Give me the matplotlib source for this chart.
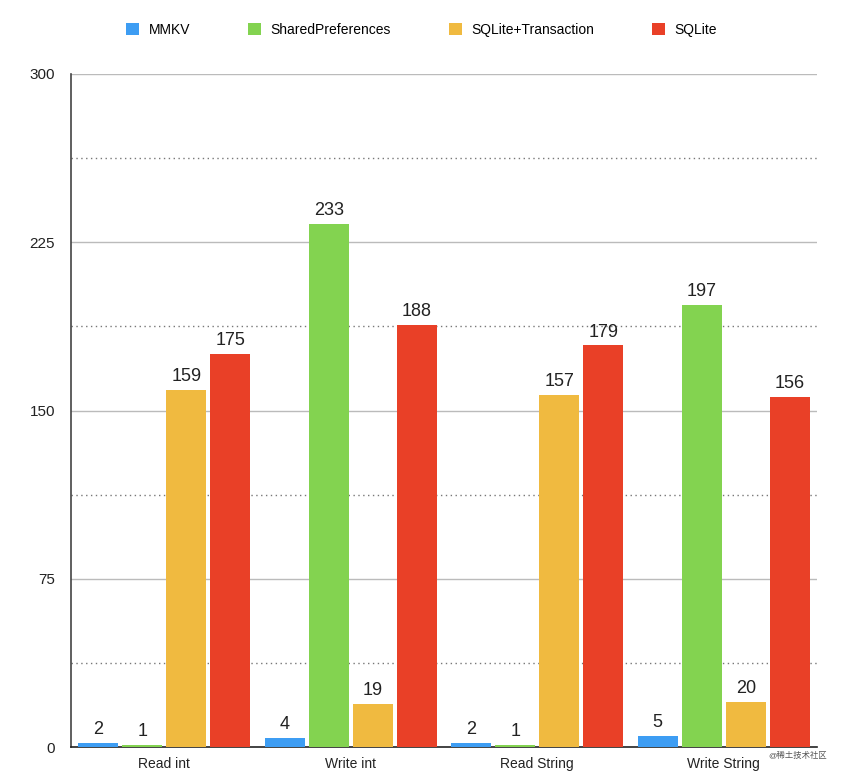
import numpy as np
import matplotlib.pyplot as plt
from matplotlib.patches import Patch

plt.rcParams['font.family'] = ['Liberation Sans', 'Noto Sans CJK SC', 'DejaVu Sans']

categories = ["Read int", "Write int", "Read String", "Write String"]
series = ["MMKV", "SharedPreferences", "SQLite+Transaction", "SQLite"]
mmkv = [2, 4, 2, 5]
shared_prefs = [1, 233, 1, 197]
sqlite_trans = [159, 19, 157, 20]
sqlite = [175, 188, 179, 156]
values = [mmkv, shared_prefs, sqlite_trans, sqlite]
colors = ["#3D9DF3", "#83D350", "#F0BA40", "#E94027"]
major_ticks = [0, 75, 150, 225, 300]
minor_ticks = [37.5, 112.5, 187.5, 262.5]

fig = plt.figure(figsize=(8.43, 7.78), dpi=100)
ax = fig.add_axes([0.0842, 0.0398, 0.8850, 0.8651])

x = np.arange(len(categories))
step = 0.236
width = 0.214
for i, (vals, col) in enumerate(zip(values, colors)):
    pos = x + (i - 1.5) * step
    ax.bar(pos, vals, width=width, color=col, zorder=3)
    for p, v in zip(pos, vals):
        ax.text(p, v + 2.2, str(v), ha='center', va='bottom', fontsize=13, color='#222222', zorder=4)

ax.set_xlim(-0.5, 3.5)
ax.set_ylim(0, 300)
ax.set_yticks(major_ticks)
ax.set_yticklabels([str(t) for t in major_ticks])
ax.set_xticks(x)
ax.set_xticklabels(categories)
ax.tick_params(axis='both', length=0, colors='#222222')
ax.tick_params(axis='y', pad=11.5, labelsize=11)
ax.tick_params(axis='x', pad=7, labelsize=10)
for t in major_ticks[1:]:
    ax.axhline(t, color='#BBBBBB', lw=1, zorder=1)
for t in minor_ticks:
    ax.axhline(t, color='#777777', lw=1, ls=(0, (1, 2.5)), zorder=1)

for side in ['top', 'right']:
    ax.spines[side].set_visible(False)
ax.spines['left'].set_color('#444444')
ax.spines['bottom'].set_color('#222222')
ax.spines['left'].set_linewidth(1.2)
ax.spines['bottom'].set_linewidth(1.2)

handles = [Patch(facecolor=c, edgecolor='none') for c in colors]
fig.legend(handles, series, loc='center', bbox_to_anchor=(0.5, 0.962), ncol=4,
           frameon=False, fontsize=10, handlelength=0.93, handleheight=1.0,
           handletextpad=0.65, columnspacing=4.2)

fig.text(0.912, 0.028, "@稀土技术社区", fontsize=6, color='#555555', ha='left', va='center')

fig.savefig("out.png", dpi=100)
